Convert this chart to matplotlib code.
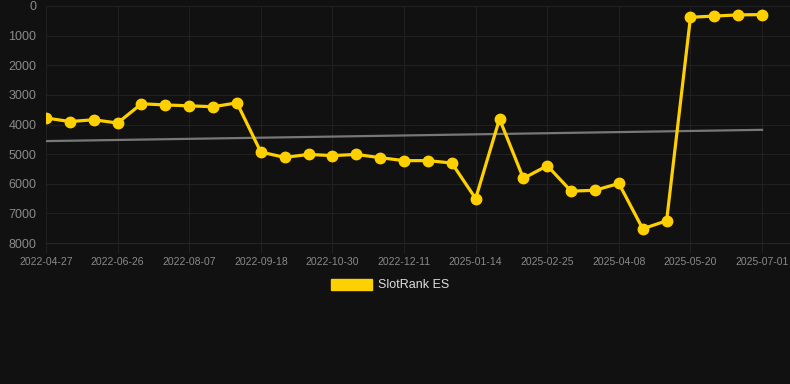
import matplotlib
matplotlib.use("Agg")
import matplotlib.pyplot as plt
from matplotlib.patches import Patch
import numpy as np

plt.rcParams['font.family'] = ['Liberation Sans', 'DejaVu Sans']

tick_labels = ["2022-04-27", "2022-06-26", "2022-08-07", "2022-09-18", "2022-10-30",
               "2022-12-11", "2025-01-14", "2025-02-25", "2025-04-08", "2025-05-20",
               "2025-07-01"]
rank_values = [3780, 3900, 3840, 3950, 3300, 3340, 3370, 3400, 3270,
               4930, 5110, 5010, 5050, 5010, 5120, 5220, 5220, 5300,
               6500, 3810, 5820, 5390, 6250, 6220, 5990, 7520, 7250,
               380, 340, 300, 290]
trend_values = [4560, 4180]
y_ticks = [0, 1000, 2000, 3000, 4000, 5000, 6000, 7000, 8000]
series_name = "SlotRank ES"

bg = "#111111"
fig = plt.figure(figsize=(7.9, 3.84), dpi=100, facecolor=bg)
ax = fig.add_axes([46/790, (384-243)/384, 1 - 46/790, (243-6)/384], facecolor=bg)

x = np.arange(len(rank_values))
ax.plot([x[0], x[-1]], trend_values, color="#777777", lw=1.6, zorder=2)
ax.plot(x, rank_values, color="#FFD000", lw=2.3, marker="o", markersize=7.5,
        markerfacecolor="#FFD000", markeredgecolor="#FFD000", zorder=3)

ax.set_ylim(8000, 0)
ax.set_xlim(0, 31.17)
ax.set_yticks(y_ticks)
ax.set_yticklabels([str(v) for v in y_ticks])
ax.set_xticks(x[::3])
ax.set_xticklabels(tick_labels)

ax.grid(True, color="#202020", lw=0.8)
ax.set_axisbelow(True)
for s in ax.spines.values():
    s.set_visible(False)
ax.spines["bottom"].set_visible(True)
ax.spines["bottom"].set_color("#262626")
ax.tick_params(axis="y", length=0, pad=7, labelsize=9, labelcolor="#8a8a8a")
ax.tick_params(axis="x", length=7, width=0.8, color="#202020", pad=3,
               labelsize=7.5, labelcolor="#8a8a8a")

handle = Patch(facecolor="#FFD000", edgecolor="#FFD000")
fig.legend([handle], [series_name], loc="center", bbox_to_anchor=(390/790, 1 - 285/384),
           frameon=False, fontsize=9, labelcolor="#dddddd",
           handlelength=3.3, handleheight=1.0, handletextpad=0.5)

fig.savefig("out.png", dpi=100, facecolor=bg)
